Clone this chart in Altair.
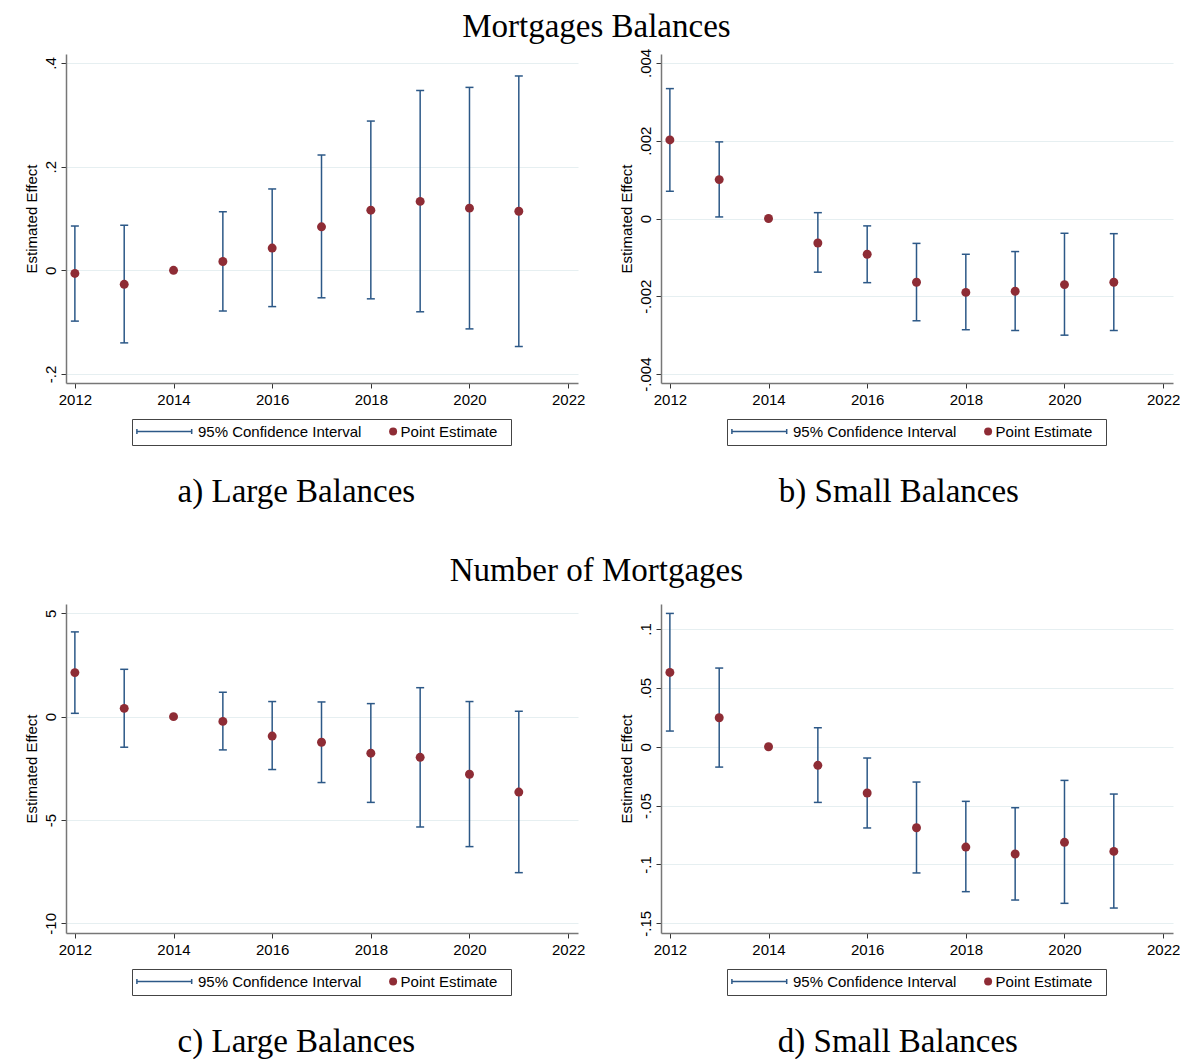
import altair as alt
import pandas as pd

# ---------------- data ----------------
years = [2012, 2013, 2014, 2015, 2016, 2017, 2018, 2019, 2020, 2021]
x_ticks = [2012, 2014, 2016, 2018, 2020, 2022]

# a) Mortgage balances, large balances
a_est = [-0.006, -0.027, 0.0, 0.017, 0.043, 0.084, 0.116, 0.133, 0.120, 0.114]
a_lo = [-0.098, -0.140, None, -0.0785, -0.070, -0.053, -0.055, -0.080, -0.113, -0.147]
a_hi = [0.0855, 0.087, None, 0.113, 0.157, 0.2225, 0.288, 0.347, 0.353, 0.375]
a_ticks = [-0.2, 0, 0.2, 0.4]
a_labels = ["-.2", "0", ".2", ".4"]

# b) Mortgage balances, small balances
b_est = [0.00202, 0.00100, 0.0, -0.00063, -0.00092, -0.00164, -0.00190, -0.00187, -0.00170, -0.00164]
b_lo = [0.00070, 0.00004, None, -0.00138, -0.00165, -0.00263, -0.00286, -0.00288, -0.00300, -0.00288]
b_hi = [0.00334, 0.00197, None, 0.00015, -0.00019, -0.00064, -0.00092, -0.00085, -0.00038, -0.00039]
b_ticks = [-0.004, -0.002, 0, 0.002, 0.004]
b_labels = ["-.004", "-.002", "0", ".002", ".004"]

# c) Number of mortgages, large balances
c_est = [2.13, 0.40, 0.0, -0.23, -0.94, -1.24, -1.77, -1.97, -2.79, -3.65]
c_lo = [0.16, -1.48, None, -1.61, -2.56, -3.19, -4.15, -5.34, -6.29, -7.55]
c_hi = [4.10, 2.29, None, 1.18, 0.73, 0.71, 0.63, 1.40, 0.73, 0.26]
c_ticks = [-10, -5, 0, 5]
c_labels = ["-10", "-5", "0", "5"]

# d) Number of mortgages, small balances
d_est = [0.0631, 0.0246, 0.0, -0.0158, -0.0393, -0.0688, -0.0852, -0.0911, -0.0812, -0.0889]
d_lo = [0.0133, -0.0173, None, -0.0473, -0.069, -0.1072, -0.1231, -0.1302, -0.133, -0.137]
d_hi = [0.1132, 0.0668, None, 0.0161, -0.0096, -0.030, -0.0464, -0.0518, -0.0286, -0.0402]
d_ticks = [-0.15, -0.1, -0.05, 0, 0.05, 0.1]
d_labels = ["-.15", "-.1", "-.05", "0", ".05", ".1"]

titles = ["Mortgages Balances", "Number of Mortgages"]
captions = ["a) Large Balances", "b) Small Balances", "c) Large Balances", "d) Small Balances"]
CI_LABEL = "95% Confidence Interval"
PT_LABEL = "Point Estimate"

# ---------------- style ----------------
SANS = "Liberation Sans"
SERIF = "Liberation Serif"
CI_COLOR = "#2c5887"
PT_COLOR = "#8e2c35"
GRID = "#e6eff1"
# legend glyph for the interval: capped horizontal line (unit = 4 px);
# the final move-to only widens the legend frame so it holds both entries
CI_SYMBOL = "M-1.9,-0.6L-1.9,0.6M-1.9,0L11.8,0M11.8,-0.6L11.8,0.6M89.6,0"
W, H = 512, 329
XDOM = [2011.82, 2022.2]


def label_expr(vals, labels):
    expr = "''"
    for v, l in reversed(list(zip(vals, labels))):
        expr = f"datum.value == {v} ? '{l}' : {expr}"
    return expr


def panel(est, lo, hi, ydom, yticks, ylabels, caption, cap_dx):
    df = pd.DataFrame({"year": years, "est": est, "lo": lo, "hi": hi})
    ci = df.dropna(subset=["lo", "hi"])

    xaxis = alt.Axis(values=x_ticks, format="d", title=None, grid=False,
                     labelFlush=False, labelOverlap=False, labelPadding=4)
    yaxis = alt.Axis(values=yticks, labelExpr=label_expr(yticks, ylabels),
                     title="Estimated Effect", labelAngle=270, grid=True,
                     labelFlush=False, labelOverlap=False, labelPadding=3,
                     titlePadding=4)
    xs = alt.Scale(domain=XDOM, nice=False, zero=False)
    ys = alt.Scale(domain=ydom, nice=False, zero=False)

    x = alt.X("year:Q", scale=xs, axis=xaxis)

    rule = alt.Chart(ci).mark_rule(color=CI_COLOR, strokeWidth=1.5).encode(
        x=x, y=alt.Y("lo:Q", scale=ys, axis=yaxis), y2="hi:Q")
    cap_lo = alt.Chart(ci).mark_tick(orient="horizontal", color=CI_COLOR,
                                     thickness=1.5, size=8, opacity=1).encode(
        x=x, y=alt.Y("lo:Q", scale=ys, axis=yaxis))
    cap_hi = alt.Chart(ci).mark_tick(orient="horizontal", color=CI_COLOR,
                                     thickness=1.5, size=8, opacity=1).encode(
        x=x, y=alt.Y("hi:Q", scale=ys, axis=yaxis))
    pts = alt.Chart(df).mark_point(filled=True, size=80, opacity=1,
                                   color=PT_COLOR).encode(
        x=x, y=alt.Y("est:Q", scale=ys, axis=yaxis))

    common = dict(title=None, orient="none", legendX=66, legendY=365,
                  direction="horizontal", padding=5, labelFont=SANS,
                  labelFontSize=15, labelColor="black", symbolSize=64,
                  symbolStrokeWidth=1.5, symbolOpacity=1, labelLimit=400)
    # point-estimate entry on the right side of the shared frame
    leg_pt = alt.Legend(symbolOffset=248.6, labelOffset=0, **common)
    # interval entry on the left side; this legend carries the frame
    leg_ci = alt.Legend(labelOffset=46, strokeColor="#444", **common)

    key_pt = alt.Chart(pd.DataFrame({"pt": [PT_LABEL]})).mark_point(
        filled=True, opacity=0).encode(
        fill=alt.Fill("pt:N", scale=alt.Scale(domain=[PT_LABEL], range=[PT_COLOR]),
                      legend=leg_pt))
    key_ci = alt.Chart(pd.DataFrame({"ci": [CI_LABEL]})).mark_point(
        filled=False, opacity=0).encode(
        stroke=alt.Stroke("ci:N", scale=alt.Scale(domain=[CI_LABEL], range=[CI_COLOR]),
                          legend=leg_ci),
        shape=alt.Shape("ci:N", scale=alt.Scale(domain=[CI_LABEL], range=[CI_SYMBOL]),
                        legend=leg_ci))
    return alt.layer(rule, cap_lo, cap_hi, pts, key_pt, key_ci).properties(
        width=W, height=H,
        title=alt.TitleParams(caption, orient="bottom", font=SERIF, fontSize=33,
                              fontWeight="normal", color="black", offset=30,
                              anchor="middle", frame="bounds", dx=cap_dx),
    )


def indep(ch):
    return ch.resolve_scale(fill="independent", stroke="independent",
                            shape="independent").resolve_legend(
        fill="independent", stroke="independent", shape="independent")


pa = panel(a_est, a_lo, a_hi, [-0.2174, 0.4174], a_ticks, a_labels, captions[0], -8)
pb = panel(b_est, b_lo, b_hi, [-0.00423, 0.00423], b_ticks, b_labels, captions[1], -0.5)
pc = panel(c_est, c_lo, c_hi, [-10.47, 5.45], c_ticks, c_labels, captions[2], -8)
pd_ = panel(d_est, d_lo, d_hi, [-0.1582, 0.1212], d_ticks, d_labels, captions[3], -1.5)


def section(p1, p2, t, off):
    return indep(alt.hconcat(p1, p2, spacing=34, title=alt.TitleParams(
        t, font=SERIF, fontSize=33, fontWeight="normal", color="black",
        anchor="middle", offset=off, dx=-5.5)))


chart = indep(alt.vconcat(section(pa, pb, titles[0], 4),
                          section(pc, pd_, titles[1], 16),
                          spacing=46)).properties(
    padding={"left": 16, "top": 3, "right": 0, "bottom": 0},
    background="white",
).configure_view(stroke=None).configure_axis(
    labelFont=SANS, labelFontSize=15, labelColor="black",
    titleFont=SANS, titleFontSize=15, titleColor="black", titleFontWeight="normal",
    domainColor="#777777", domainWidth=1.5, tickColor="#333333", tickSize=5,
    tickWidth=1, gridColor=GRID, gridWidth=1.2,
)

chart.save("out.html", embed_options={"renderer": "svg", "actions": False})
